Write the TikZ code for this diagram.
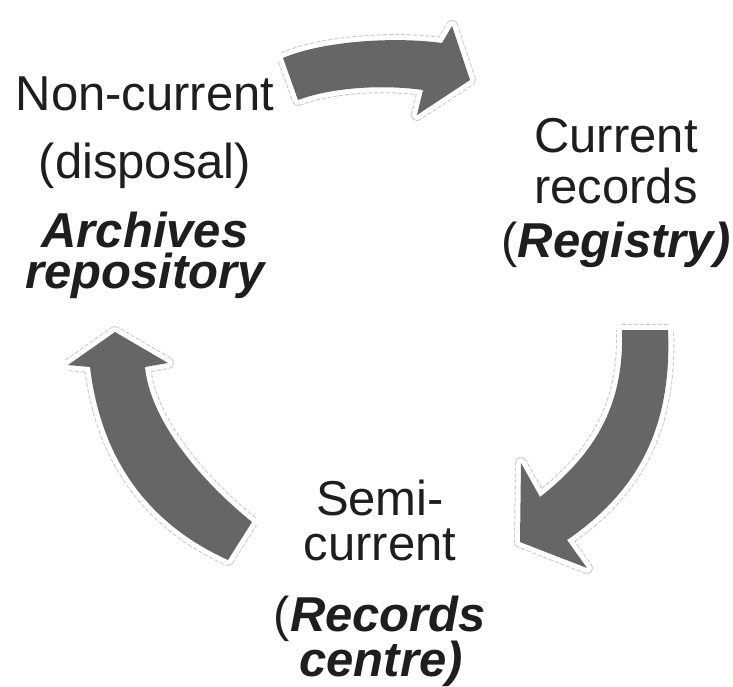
\documentclass[tikz,border=0pt]{standalone}
\usepackage{fontspec}
\setmainfont{Liberation Sans}
\definecolor{arrowgray}{HTML}{666666}
\definecolor{edgegray}{HTML}{C8C8C8}
\definecolor{txt}{HTML}{1E1E1E}
\tikzset{
  line/.style={anchor=base, inner sep=0pt, text=txt, font=\fontsize{49}{49}\selectfont},
  halo/.style={draw=edgegray, line width=12pt, line join=round, dash pattern=on 4pt off 2pt},
  gap/.style={draw=white, line width=10pt, line join=round},
  blockfill/.style={fill=arrowgray, draw=none},
}
\begin{document}
\begin{tikzpicture}[x=1pt, y=-1pt]
\useasboundingbox (0,0) rectangle (733,686);
% top arrow
\def\toparrow{(283,58) .. controls (320,42) and (390,36) .. (442,43) -- (452,26) -- (470,80) -- (417,115) -- (423,90) .. controls (380,84) and (330,88) .. (298,100) -- cycle}
% right arrow
\def\rightarrow{(622,330) -- (668,330) .. controls (672,425) and (640,490) .. (567,540) -- (587,568) -- (520,542) -- (521,463) -- (540,497) .. controls (600,450) and (624,400) .. (622,330) -- cycle}
% left arrow
\def\leftarrow{(252,522) .. controls (200,480) and (150,420) .. (145,367) -- (168,363) -- (115,332) -- (68,365) -- (90,367) .. controls (100,450) and (140,520) .. (228,560) -- cycle}
\foreach \p in {\toparrow,\rightarrow,\leftarrow}{
  \draw[halo] \p;
  \draw[gap] \p;
  \fill[blockfill] \p;
}
% left text
\node[line] (nc1) at (145,110) {Non-current};
\node[line] (nc2) at (145,178) {(disposal)};
\node[line, anchor=north, align=center, font=\fontsize{49}{41}\selectfont\bfseries\itshape] (nc3) at (145,212) {Archives\\repository};
% right text
\node[line] (cr1) at (616,152) {Current};
\node[line] (cr2) at (616,203) {records};
\node[line] (cr3) at (616,257) {(\textbf{\textit{Registry)}}};
% bottom text
\node[line] (sc1) at (380,515) {Semi-};
\node[line] (sc2) at (380,560) {current};
\node[line] (sc3) at (380,631) {(\textbf{\textit{Records}}};
\node[line] (sc4) at (381,676) {\textbf{\textit{centre)}}};
\end{tikzpicture}
\end{document}
